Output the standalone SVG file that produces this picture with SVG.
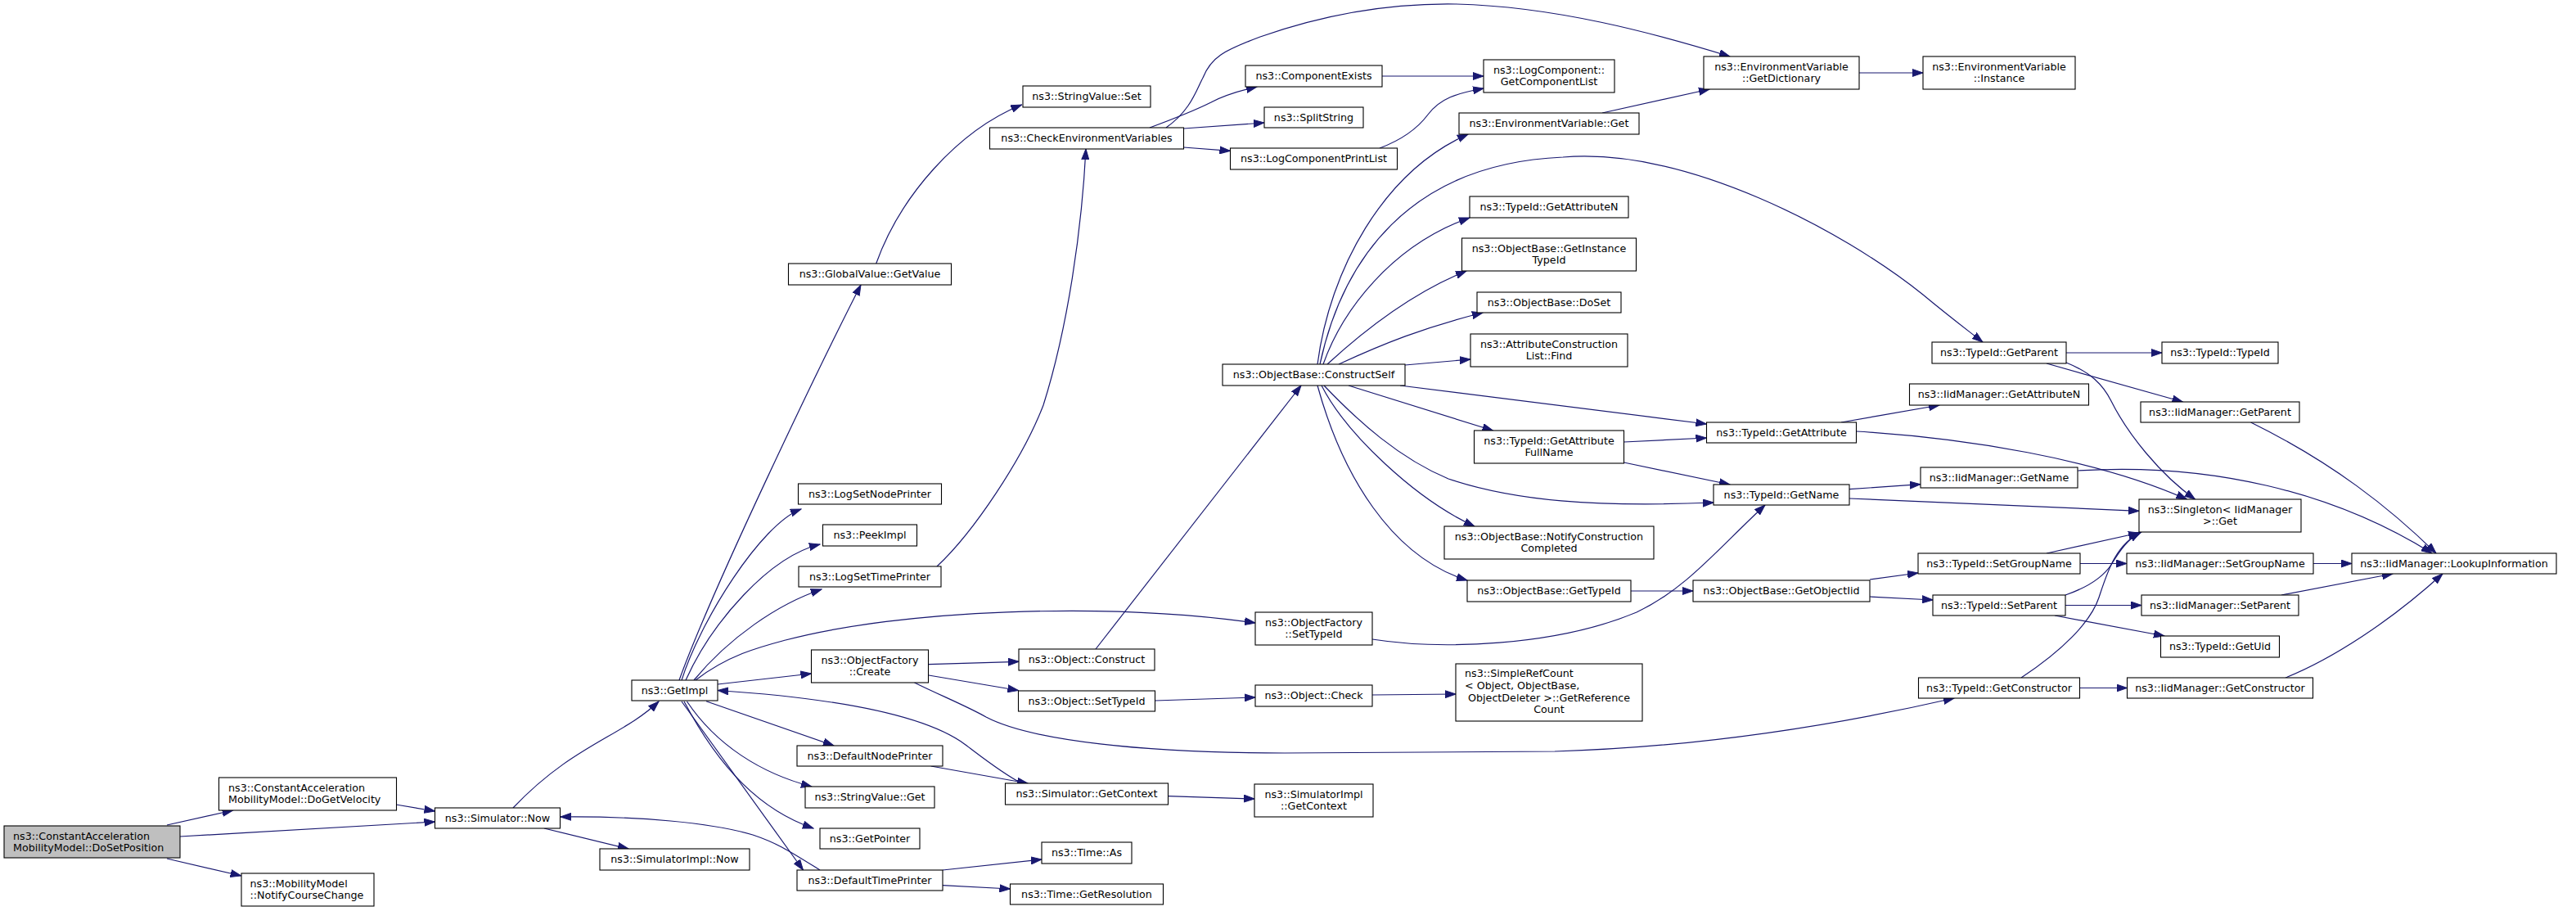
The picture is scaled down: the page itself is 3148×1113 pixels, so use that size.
<svg xmlns="http://www.w3.org/2000/svg" width="3148" height="1113" viewBox="0 0 3148 1113">
<style>
.n rect{fill:#ffffff;stroke:#000000;stroke-width:1.1}
.n.s rect{fill:#bfbfbf}
.n text{font-family:"DejaVu Sans",sans-serif;font-size:12.7px;fill:#000000;text-anchor:middle}
.n text.l{text-anchor:start}
.e path{fill:none;stroke:#191970;stroke-width:1.2;marker-end:url(#a)}
</style>
<defs>
<marker id="a" markerWidth="14" markerHeight="10" refX="13" refY="5" orient="auto" markerUnits="userSpaceOnUse">
<path d="M0,0.5 L13,5 L0,9.5 z" fill="#191970" stroke="#191970" stroke-width="1"/>
</marker>
</defs>
<rect x="0" y="0" width="3148" height="1113" fill="#ffffff"/>
<g id="edges" class="e">
<path d="M204,1008 L284.6,990"/>
<path d="M220,1022 L531.5,1004"/>
<path d="M204,1049 L294.7,1070"/>
<path d="M484,983 L531.5,991"/>
<path d="M627,987 C700,910 760,900 805,857"/>
<path d="M665,1012 L768,1037"/>
<path d="M1002,1063 C965,1040 950,1030 920,1020 C870,1005 780,997 685,998"/>
<path d="M830,831 C870,720 1000,450 1052,348"/>
<path d="M1070.7,322 C1100,240 1170,160 1248.5,128"/>
<path d="M833,831 C855,760 930,640 979,622"/>
<path d="M838,831 C870,760 940,680 1002,665"/>
<path d="M848,831 C890,780 950,738 1004,720"/>
<path d="M1145,692 C1190,650 1250,560 1275,495 C1305,400 1322,280 1327,182"/>
<path d="M850,831 C890,800 930,790 960,782 C1100,745 1350,735 1534,761"/>
<path d="M877,836 L991.5,823"/>
<path d="M1135,811.7 L1245,808.3"/>
<path d="M1135,825 L1244.5,843.5"/>
<path d="M1117.5,834 C1150,850 1180,862 1205,876 C1260,905 1400,920 1570,920 L1900,918 C2100,912 2270,880 2388,853"/>
<path d="M1339,793 L1590,471"/>
<path d="M1411.5,856 L1534,852"/>
<path d="M1677,849 L1779,848"/>
<path d="M863,856.7 L1019,911"/>
<path d="M839.5,857 C875,910 930,945 992,961"/>
<path d="M836,857 C880,940 930,990 994,1012"/>
<path d="M833,857 L981.5,1063"/>
<path d="M1137.7,936 L1256,957"/>
<path d="M1248.5,957 C1225,945 1200,925 1180,910 C1140,880 1050,855 877,843.5"/>
<path d="M1427.5,972.7 L1533,976"/>
<path d="M1152,1063 L1273,1050"/>
<path d="M1152,1081.7 L1234.5,1086"/>
<path d="M1677,781 C1760,794 1900,790 2000,748 C2060,720 2100,670 2157,617"/>
<path d="M1405,156 C1440,143 1460,135 1480,125 C1495,117 1510,112 1536,106"/>
<path d="M1446.5,157 L1545,150"/>
<path d="M1446.5,180 L1503.5,184.3"/>
<path d="M1425,156 C1455,135 1462,110 1470,95 C1480,70 1495,62 1540,45 C1640,10 1720,4 1780,5 C1900,8 2020,40 2114,69"/>
<path d="M1689,93 L1813,93"/>
<path d="M1686,181 C1710,172 1730,160 1745,140 C1760,120 1780,114 1813,108"/>
<path d="M1958,138 L2089,109"/>
<path d="M2272,89 L2350,89"/>
<path d="M1610,445 C1625,330 1690,210 1794,164"/>
<path d="M1613,445 C1640,320 1720,200 1910,192 C2060,180 2250,280 2350,360 C2380,385 2400,400 2423,418"/>
<path d="M1617,445 C1640,380 1700,300 1796,266"/>
<path d="M1622,445 C1660,410 1720,360 1792,331"/>
<path d="M1636,445 C1690,420 1740,400 1812,382"/>
<path d="M1717,446 L1797,439"/>
<path d="M1711,471 L2085.5,518"/>
<path d="M1648,471 L1824.5,526"/>
<path d="M1618,471 C1660,515 1710,560 1770,585 C1850,612 1950,620 2094,614"/>
<path d="M1615,471 C1645,530 1730,610 1802,643"/>
<path d="M1610,471 C1640,580 1700,680 1793,709"/>
<path d="M1984.5,540 L2085.5,535"/>
<path d="M1984.5,565 L2114,592"/>
<path d="M1993,722 L2069,722"/>
<path d="M2250,516 L2370,495"/>
<path d="M2268.5,527 C2400,535 2560,560 2672.5,610"/>
<path d="M2260,597.7 L2347,591.7"/>
<path d="M2260,609 L2614,624.3"/>
<path d="M2285,708 L2344,700"/>
<path d="M2285,729 L2362,733"/>
<path d="M2539,575 C2700,565 2850,600 2972,676"/>
<path d="M2525,431 L2642,431"/>
<path d="M2501,444 L2667.5,491"/>
<path d="M2525,443 C2555,455 2570,470 2580,490 C2600,530 2640,580 2682.6,610"/>
<path d="M2750.6,516 C2850,565 2920,620 2977,676"/>
<path d="M2542,688.5 L2599,688.5"/>
<path d="M2501,676 L2614,651"/>
<path d="M2827,688.5 L2874,688.5"/>
<path d="M2524,727 C2550,718 2570,705 2580,690 C2592,670 2600,660 2615,650"/>
<path d="M2524,739.5 L2617,739.5"/>
<path d="M2511,752 L2645,777"/>
<path d="M2788,727 L2924,701"/>
<path d="M2470,828 C2520,795 2555,760 2565,730 C2575,700 2585,665 2617,650"/>
<path d="M2541.5,840.5 L2599.5,840.5"/>
<path d="M2793,828 C2850,805 2920,760 2985,701"/>
</g>
<g id="n_dosetposition" class="n s"><rect x="5" y="1009" width="215" height="39"/><text class="l" x="16" y="1025.5">ns3::ConstantAcceleration</text><text class="l" x="16" y="1039.5">MobilityModel::DoSetPosition</text></g>
<g id="n_dogetvelocity" class="n"><rect x="267.5" y="950" width="217" height="40"/><text class="l" x="279" y="967">ns3::ConstantAcceleration</text><text class="l" x="279" y="981">MobilityModel::DoGetVelocity</text></g>
<g id="n_notifycoursechange" class="n"><rect x="295" y="1067" width="162" height="40"/><text class="l" x="305.5" y="1084">ns3::MobilityModel</text><text class="l" x="305.5" y="1098">::NotifyCourseChange</text></g>
<g id="n_simulator_now" class="n"><rect x="531.5" y="987" width="153" height="25"/><text x="608" y="1003.8">ns3::Simulator::Now</text></g>
<g id="n_simulatorimpl_now" class="n"><rect x="733" y="1037" width="183" height="26"/><text x="824.5" y="1054.3">ns3::SimulatorImpl::Now</text></g>
<g id="n_getimpl" class="n"><rect x="772" y="831" width="105" height="25"/><text x="824.5" y="847.8">ns3::GetImpl</text></g>
<g id="n_globalvalue_getvalue" class="n"><rect x="963.5" y="322" width="199" height="26"/><text x="1063" y="339.3">ns3::GlobalValue::GetValue</text></g>
<g id="n_logsetnodeprinter" class="n"><rect x="975.5" y="591" width="175" height="25"/><text x="1063" y="607.8">ns3::LogSetNodePrinter</text></g>
<g id="n_peekimpl" class="n"><rect x="1005.5" y="641" width="115" height="26"/><text x="1063" y="658.3">ns3::PeekImpl</text></g>
<g id="n_logsettimeprinter" class="n"><rect x="976" y="692" width="174" height="25"/><text x="1063" y="708.8">ns3::LogSetTimePrinter</text></g>
<g id="n_objectfactory_create" class="n"><rect x="991.5" y="794" width="143" height="40"/><text x="1063" y="811">ns3::ObjectFactory</text><text x="1063" y="825">::Create</text></g>
<g id="n_defaultnodeprinter" class="n"><rect x="974" y="911" width="178" height="25"/><text x="1063" y="927.8">ns3::DefaultNodePrinter</text></g>
<g id="n_stringvalue_get" class="n"><rect x="984" y="961" width="158" height="26"/><text x="1063" y="978.3">ns3::StringValue::Get</text></g>
<g id="n_getpointer" class="n"><rect x="1002" y="1012" width="122" height="25"/><text x="1063" y="1028.8">ns3::GetPointer</text></g>
<g id="n_defaulttimeprinter" class="n"><rect x="974" y="1063" width="178" height="25"/><text x="1063" y="1079.8">ns3::DefaultTimePrinter</text></g>
<g id="n_stringvalue_set" class="n"><rect x="1250" y="105" width="156" height="26"/><text x="1328" y="122.3">ns3::StringValue::Set</text></g>
<g id="n_checkenvironmentvariables" class="n"><rect x="1209.5" y="156" width="237" height="26"/><text x="1328" y="173.3">ns3::CheckEnvironmentVariables</text></g>
<g id="n_object_construct" class="n"><rect x="1245" y="793" width="166" height="26"/><text x="1328" y="810.3">ns3::Object::Construct</text></g>
<g id="n_object_settypeid" class="n"><rect x="1244.5" y="844" width="167" height="25"/><text x="1328" y="860.8">ns3::Object::SetTypeId</text></g>
<g id="n_simulator_getcontext" class="n"><rect x="1228.5" y="957" width="199" height="26"/><text x="1328" y="974.3">ns3::Simulator::GetContext</text></g>
<g id="n_time_as" class="n"><rect x="1273" y="1029" width="110" height="26"/><text x="1328" y="1046.3">ns3::Time::As</text></g>
<g id="n_time_getresolution" class="n"><rect x="1234.5" y="1080" width="187" height="25"/><text x="1328" y="1096.8">ns3::Time::GetResolution</text></g>
<g id="n_componentexists" class="n"><rect x="1522" y="80" width="167" height="26"/><text x="1605.5" y="97.3">ns3::ComponentExists</text></g>
<g id="n_splitstring" class="n"><rect x="1545" y="131" width="121" height="25"/><text x="1605.5" y="147.8">ns3::SplitString</text></g>
<g id="n_logcomponentprintlist" class="n"><rect x="1503.5" y="181" width="204" height="26"/><text x="1605.5" y="198.3">ns3::LogComponentPrintList</text></g>
<g id="n_constructself" class="n"><rect x="1494" y="445" width="223" height="26"/><text x="1605.5" y="462.3">ns3::ObjectBase::ConstructSelf</text></g>
<g id="n_objectfactory_settypeid" class="n"><rect x="1534" y="748" width="143" height="40"/><text x="1605.5" y="765">ns3::ObjectFactory</text><text x="1605.5" y="779">::SetTypeId</text></g>
<g id="n_object_check" class="n"><rect x="1534" y="837" width="143" height="26"/><text x="1605.5" y="854.3">ns3::Object::Check</text></g>
<g id="n_simulatorimpl_getcontext" class="n"><rect x="1533" y="958" width="145" height="40"/><text x="1605.5" y="975">ns3::SimulatorImpl</text><text x="1605.5" y="989">::GetContext</text></g>
<g id="n_getcomponentlist" class="n"><rect x="1813" y="73" width="160" height="40"/><text x="1893" y="90">ns3::LogComponent::</text><text x="1893" y="104">GetComponentList</text></g>
<g id="n_envvar_get" class="n"><rect x="1783" y="138" width="220" height="26"/><text x="1893" y="155.3">ns3::EnvironmentVariable::Get</text></g>
<g id="n_typeid_getattributen" class="n"><rect x="1796" y="240" width="194" height="26"/><text x="1893" y="257.3">ns3::TypeId::GetAttributeN</text></g>
<g id="n_getinstancetypeid" class="n"><rect x="1786.5" y="291" width="213" height="40"/><text x="1893" y="308">ns3::ObjectBase::GetInstance</text><text x="1893" y="322">TypeId</text></g>
<g id="n_doset" class="n"><rect x="1805" y="357" width="176" height="25"/><text x="1893" y="373.8">ns3::ObjectBase::DoSet</text></g>
<g id="n_find" class="n"><rect x="1797" y="408" width="192" height="40"/><text x="1893" y="425">ns3::AttributeConstruction</text><text x="1893" y="439">List::Find</text></g>
<g id="n_getattributefullname" class="n"><rect x="1801.5" y="526" width="183" height="40"/><text x="1893" y="543">ns3::TypeId::GetAttribute</text><text x="1893" y="557">FullName</text></g>
<g id="n_notifyconstructioncompleted" class="n"><rect x="1765" y="643" width="256" height="40"/><text x="1893" y="660">ns3::ObjectBase::NotifyConstruction</text><text x="1893" y="674">Completed</text></g>
<g id="n_objectbase_gettypeid" class="n"><rect x="1793" y="709" width="200" height="26"/><text x="1893" y="726.3">ns3::ObjectBase::GetTypeId</text></g>
<g id="n_simplerefcount" class="n"><rect x="1779" y="811" width="228" height="70"/><text class="l" x="1790" y="827">ns3::SimpleRefCount</text><text class="l" x="1790" y="842">&lt; Object, ObjectBase,</text><text x="1893" y="857">ObjectDeleter &gt;::GetReference</text><text x="1893" y="871">Count</text></g>
<g id="n_getdictionary" class="n"><rect x="2082" y="69" width="190" height="40"/><text x="2177" y="86">ns3::EnvironmentVariable</text><text x="2177" y="100">::GetDictionary</text></g>
<g id="n_typeid_getattribute" class="n"><rect x="2085.5" y="516" width="183" height="25"/><text x="2177" y="532.8">ns3::TypeId::GetAttribute</text></g>
<g id="n_typeid_getname" class="n"><rect x="2094" y="592" width="166" height="25"/><text x="2177" y="608.8">ns3::TypeId::GetName</text></g>
<g id="n_getobjectiid" class="n"><rect x="2069" y="709" width="216" height="26"/><text x="2177" y="726.3">ns3::ObjectBase::GetObjectIid</text></g>
<g id="n_envvar_instance" class="n"><rect x="2350" y="69" width="186" height="40"/><text x="2443" y="86">ns3::EnvironmentVariable</text><text x="2443" y="100">::Instance</text></g>
<g id="n_typeid_getparent" class="n"><rect x="2361" y="418" width="164" height="26"/><text x="2443" y="435.3">ns3::TypeId::GetParent</text></g>
<g id="n_iid_getattributen" class="n"><rect x="2333.5" y="469" width="219" height="26"/><text x="2443" y="486.3">ns3::IidManager::GetAttributeN</text></g>
<g id="n_iid_getname" class="n"><rect x="2347" y="571" width="192" height="25"/><text x="2443" y="587.8">ns3::IidManager::GetName</text></g>
<g id="n_typeid_setgroupname" class="n"><rect x="2344" y="676" width="198" height="25"/><text x="2443" y="692.8">ns3::TypeId::SetGroupName</text></g>
<g id="n_typeid_setparent" class="n"><rect x="2362" y="727" width="162" height="25"/><text x="2443" y="743.8">ns3::TypeId::SetParent</text></g>
<g id="n_typeid_getconstructor" class="n"><rect x="2344.5" y="828" width="197" height="25"/><text x="2443" y="844.8">ns3::TypeId::GetConstructor</text></g>
<g id="n_typeid_typeid" class="n"><rect x="2642" y="418" width="142" height="26"/><text x="2713" y="435.3">ns3::TypeId::TypeId</text></g>
<g id="n_iid_getparent" class="n"><rect x="2616" y="491" width="194" height="25"/><text x="2713" y="507.8">ns3::IidManager::GetParent</text></g>
<g id="n_singleton_get" class="n"><rect x="2614" y="610" width="198" height="40"/><text x="2713" y="627">ns3::Singleton&lt; IidManager</text><text x="2713" y="641">&gt;::Get</text></g>
<g id="n_iid_setgroupname" class="n"><rect x="2599" y="676" width="228" height="25"/><text x="2713" y="692.8">ns3::IidManager::SetGroupName</text></g>
<g id="n_iid_setparent" class="n"><rect x="2617" y="727" width="192" height="25"/><text x="2713" y="743.8">ns3::IidManager::SetParent</text></g>
<g id="n_typeid_getuid" class="n"><rect x="2640.5" y="777" width="145" height="26"/><text x="2713" y="794.3">ns3::TypeId::GetUid</text></g>
<g id="n_iid_getconstructor" class="n"><rect x="2599.5" y="828" width="227" height="25"/><text x="2713" y="844.8">ns3::IidManager::GetConstructor</text></g>
<g id="n_iid_lookupinformation" class="n"><rect x="2874" y="676" width="250" height="25"/><text x="2999" y="692.8">ns3::IidManager::LookupInformation</text></g>
</svg>
